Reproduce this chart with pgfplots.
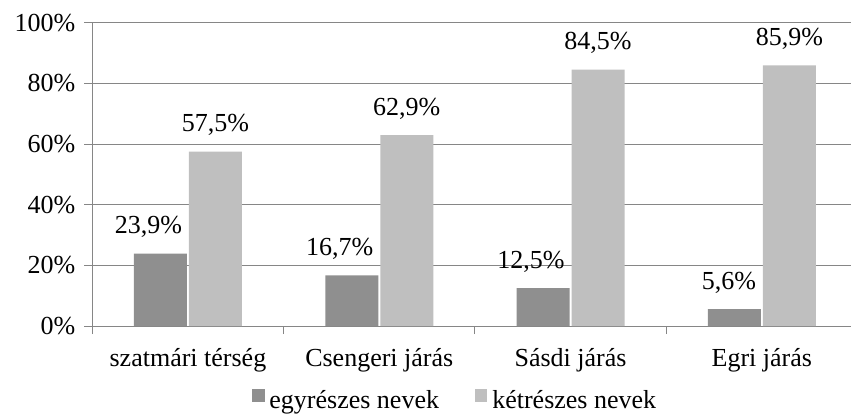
\documentclass[border=0pt]{standalone}
\usepackage{fontspec}
\setmainfont{Liberation Serif}
\usepackage{pgfplots}
\pgfplotsset{compat=1.18}

\definecolor{darkbar}{RGB}{143,143,143}
\definecolor{lightbar}{RGB}{191,191,191}
\definecolor{gridgray}{RGB}{134,134,134}

\pgfplotsset{
  sqlegend/.style={legend image code/.code={%
    \fill[##1] (0pt,0pt) rectangle (6.2pt,6.2pt);
    \path (8.6pt,0pt);}},
}

\begin{document}
\fontsize{13}{15.6}\selectfont
\begin{tikzpicture}
% fixed page, in the reference's proportions
\path[use as bounding box] (-46.15pt,-45.5pt) rectangle (379.35pt,163pt);
\begin{axis}[
  at={(0pt,0pt)}, anchor=south west,
  scale only axis,
  width=379.35pt, height=151.65pt,
  ybar=1pt, bar width=26.5pt,
  xmin=-0.5, xmax=3.466,
  ymin=0, ymax=100,
  axis x line*=bottom, axis y line*=left,
  axis line style={gridgray, line width=0.5pt},
  % ticks sit on category borders, names moved to the middle
  xtick={-0.5,0.5,1.5,2.5},
  xticklabels={szatmári térség, Csengeri járás, Sásdi járás, Egri járás},
  xticklabel style={xshift=47.83pt, yshift=-2.8pt},
  ytick={0,20,40,60,80,100},
  yticklabels={0\%,20\%,40\%,60\%,80\%,100\%},
  tick align=outside,
  major tick length=4pt,
  tick style={gridgray, line width=0.5pt},
  ymajorgrids,
  grid style={gridgray, line width=0.5pt},
  point meta=explicit symbolic,
  legend columns=2,
  legend style={draw=none, fill=none, at={(0.4770,-0.2080)}, anchor=north,
    inner sep=0pt, nodes={inner sep=0pt},
    /tikz/every even column/.append style={column sep=18pt}},
]
\addplot[fill=darkbar, draw=none, sqlegend,
  nodes near coords,
  every node near coord/.append style={anchor=base east, inner sep=0pt,
    xshift=11pt, yshift=10pt}]
  coordinates {(0,23.9) [23,9\%] (1,16.7) [16,7\%] (2,12.5) [12,5\%] (3,5.6) [5,6\%]};
\addplot[fill=lightbar, draw=none, sqlegend,
  nodes near coords,
  every node near coord/.append style={anchor=base, inner sep=0pt, yshift=10pt}]
  coordinates {(0,57.5) [57,5\%] (1,62.9) [62,9\%] (2,84.5) [84,5\%] (3,85.9) [85,9\%]};
\legend{egyrészes nevek, kétrészes nevek}
\end{axis}
\end{tikzpicture}
\end{document}
